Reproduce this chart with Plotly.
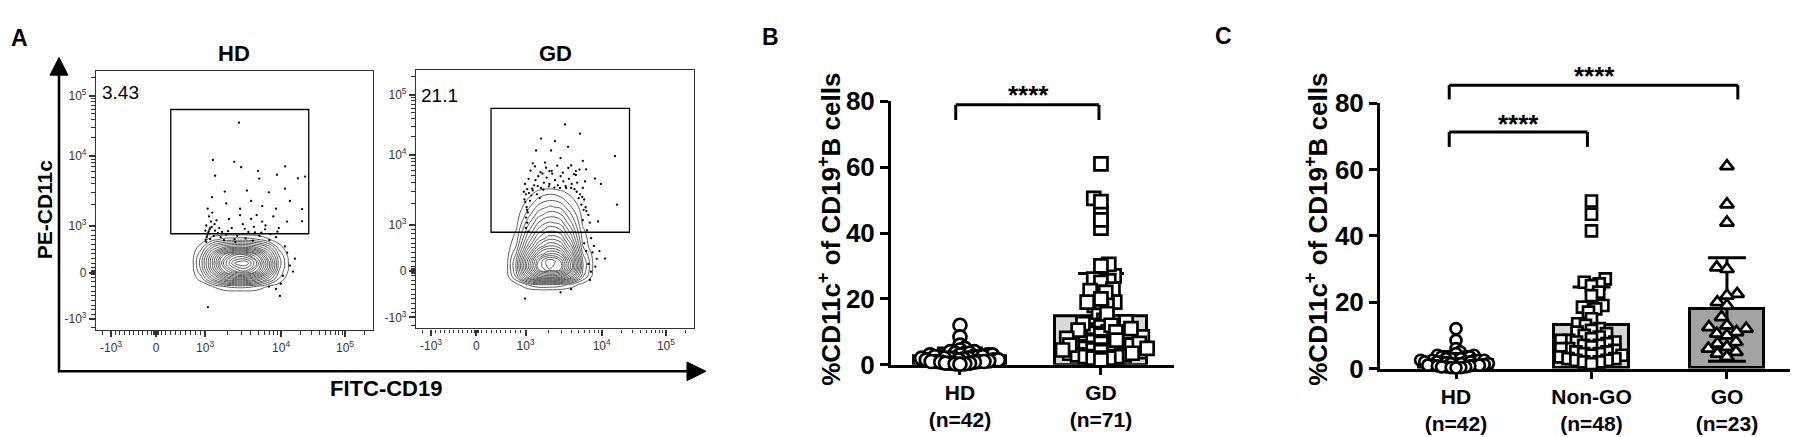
import numpy as np
import plotly.graph_objects as go

# ======================= DATA =======================
# ---- Panel A: flow cytometry, display channel units (0-1000, biexponential display) ----
flow_tick_labels = ["-10<sup>3</sup>", "0", "10<sup>3</sup>", "10<sup>4</sup>", "10<sup>5</sup>"]
flow_x_ticks = [54, 217, 394, 668, 899]
flow_y_ticks = [43, 223, 403, 673, 906]
flow_titles = ["HD", "GD"]
gate_pct = ["3.43", "21.1"]
gate_x = [270, 768]
gate_y = [373, 853]

# HD density grid
hd_grid_x = [340, 380, 420, 460, 500, 540, 580, 620, 660, 700, 740]
hd_grid_y = [140, 170, 200, 230, 260, 290, 320, 350, 380]
hd_density = [
    [0, 0, 0, 0, 0, 0, 0, 0, 0, 0, 0],
    [0, 0, 0.5, 1.0, 1.2, 1.2, 1.0, 0.5, 0.2, 0, 0],
    [0, 0.8, 2.5, 4.0, 5.0, 5.0, 4.0, 2.5, 1.0, 0, 0],
    [0, 1.5, 4.0, 6.5, 8.0, 8.5, 7.0, 4.5, 1.5, 0.3, 0],
    [0, 1.8, 4.5, 7.5, 9.5, 10.0, 8.0, 5.0, 1.8, 0.3, 0],
    [0, 1.5, 4.0, 6.5, 8.0, 8.0, 6.5, 4.0, 1.5, 0.2, 0],
    [0, 0.8, 2.5, 3.5, 4.0, 4.0, 3.5, 2.5, 0.8, 0, 0],
    [0, 0.2, 0.8, 1.2, 1.3, 1.3, 1.1, 0.6, 0.2, 0, 0],
    [0, 0, 0, 0, 0, 0, 0, 0, 0, 0, 0],
]
hd_dots_x = [516, 422, 499, 524, 683, 585, 430, 653, 729, 755, 589, 419, 465, 545, 624, 682, 744, 744, 600, 650,
             560, 700, 520, 470, 640, 580, 690,
             400, 405, 410, 398, 415, 408, 420, 403, 425, 430, 418, 435, 440, 395, 412, 428, 445, 450, 455,
             470, 490, 510, 530, 550, 570, 590, 610, 630, 650, 480, 520, 560, 600, 660, 540, 500,
             682, 711, 667, 624, 664, 718, 690, 700, 675, 650, 404,
             398, 402, 407, 413, 396, 462, 477, 503, 537, 566, 597, 626, 655, 612, 574]
hd_dots_y = [802, 658, 651, 630, 633, 615, 597, 601, 587, 594, 586, 514, 536, 540, 533, 547, 468, 421, 480, 470,
             500, 500, 470, 490, 440, 445, 420,
             360, 375, 390, 405, 420, 440, 455, 470, 365, 385, 400, 425, 375, 385, 352, 410, 395, 360, 380,
             370, 395, 365, 410, 380, 400, 365, 390, 372, 360, 430, 445, 430, 420, 395, 355, 352,
             324, 227, 180, 169, 133, 277, 300, 250, 210, 160, 90,
             342, 368, 382, 396, 350, 348, 383, 341, 392, 346, 377, 349, 381, 405, 378]

# GD density grid
gd_grid_x = [320, 360, 400, 440, 480, 520, 560, 600, 640]
gd_grid_y = [140, 170, 200, 230, 260, 290, 320, 350, 380, 410, 440, 470, 500, 530, 560]
gd_density = [
    [0, 0, 0, 0, 0, 0, 0, 0, 0],
    [0, 0.3, 1.0, 1.5, 1.5, 1.3, 0.8, 0.3, 0],
    [0, 1.5, 4.0, 6.0, 6.5, 6.0, 4.0, 1.5, 0.2],
    [0, 2.0, 5.5, 8.5, 9.5, 9.0, 6.0, 2.0, 0.3],
    [0, 2.0, 5.5, 8.5, 10.0, 9.0, 6.0, 2.0, 0.3],
    [0, 1.5, 4.5, 7.0, 8.0, 7.5, 5.0, 1.5, 0.2],
    [0, 1.0, 3.5, 5.5, 6.5, 6.0, 4.0, 1.0, 0],
    [0, 0.7, 2.8, 4.5, 5.3, 5.0, 3.2, 0.8, 0],
    [0, 0.5, 2.2, 3.7, 4.4, 4.1, 2.6, 0.6, 0],
    [0, 0.3, 1.7, 3.0, 3.6, 3.3, 2.0, 0.4, 0],
    [0, 0.2, 1.2, 2.3, 2.8, 2.6, 1.5, 0.3, 0],
    [0, 0.1, 0.8, 1.7, 2.1, 1.9, 1.0, 0.2, 0],
    [0, 0, 0.5, 1.1, 1.4, 1.2, 0.6, 0.1, 0],
    [0, 0, 0.2, 0.6, 0.8, 0.6, 0.3, 0, 0],
    [0, 0, 0, 0, 0, 0, 0, 0, 0],
]
gd_dots_x = [536, 590, 450, 500, 716, 432, 486, 547, 464, 558, 612, 644, 665, 723, 655, 520, 575, 480, 420, 600,
             390, 395, 400, 392, 405, 410, 415, 420, 425, 430, 440, 450, 460, 470, 480, 490, 500, 510, 520, 530,
             540, 550, 560, 570, 580, 590, 600, 605, 595, 585, 575, 455, 435, 445, 398, 402, 396, 400, 395, 404,
             610, 620, 625, 615, 630, 640, 635, 650, 680, 629, 626, 558, 620, 645, 605, 612, 660, 600, 392, 520,
             388, 393, 399, 406, 412, 418, 428, 438, 448, 458, 468, 478, 488, 498, 508, 518, 528, 538, 548, 558,
             568, 578, 588, 598, 608, 603, 613]
gd_dots_y = [791, 755, 736, 726, 668, 690, 690, 704, 643, 632, 617, 581, 560, 480, 415, 660, 610, 610, 640, 650,
             500, 520, 540, 560, 580, 495, 515, 535, 555, 575, 590, 545, 565, 585, 560, 600, 575, 555, 590, 570,
             545, 580, 560, 540, 565, 520, 545, 500, 480, 505, 595, 600, 520, 505, 470, 450, 430, 410, 390, 375,
             470, 440, 410, 380, 350, 320, 295, 270, 271, 220, 188, 152, 250, 240, 330, 300, 300, 420, 116, 140,
             530, 490, 460, 525, 612, 542, 628, 552, 606, 538, 623, 551, 611, 546, 631, 545, 604, 552, 622, 545,
             598, 530, 616, 510, 570, 460, 455]

# ---- Panels B and C: % CD11c+ of CD19+ B cells ----
hd_vals = [12, 8.5, 6, 5, 4.5, 4, 4, 3.5, 3.5, 3.5, 3, 3, 3, 3, 2.5, 2.5, 2.5, 2.5, 2.5, 2, 2, 2, 2, 2,
           1.8, 1.5, 1.5, 1.5, 1.5, 1.2, 1, 1, 1, 1, 0.8, 0.8, 0.5, 0.5, 0.5, 0.3, 0.3, 0.2]
nongo_vals = [50.5, 46.5, 41.5, 27, 26, 25.5, 25, 23, 22, 19, 18.5, 18, 17, 15, 13.5, 13, 12, 11.5, 11, 10.5,
              10, 9.5, 9, 8.5, 8.5, 8, 8, 7.5, 7, 7, 6.5, 6, 6, 5.5, 5, 5, 4.5, 4.5, 4, 4, 3.5, 3, 3, 2.5,
              2.5, 2, 2, 1.5]
go_vals = [61, 49.5, 44, 30.5, 30, 22.5, 22, 20, 19, 15.5, 13, 12.5, 12, 11, 10.5, 10, 8, 7.5, 6.5, 6, 5,
           4.5, 3.5]
gd_vals = nongo_vals + go_vals

b_categories = ["HD<br>(n=42)", "GD<br>(n=71)"]
b_means = [2.6, 14.7]
b_sds = [2.5, 13.0]
c_categories = ["HD<br>(n=42)", "Non-GO<br>(n=48)", "GO<br>(n=23)"]
c_means = [2.6, 13.0, 17.8]
c_sds = [2.5, 11.6, 15.6]
value_ticks = [0, 20, 40, 60, 80]
stars = "****"
y_title = "%CD11c<sup>+</sup> of CD19<sup>+</sup>B cells"
# significance brackets: (panel, [left, right] category positions, leg bottom, bar level)
b_brackets = [([-0.03, 0.986], 74.3, 78.9)]
c_brackets = [([-0.05, 2.08], 81.1, 85.4), ([-0.05, 0.97], 66.8, 71.3)]

# ======================= LAYOUT HELPERS =======================
W, H = 1798, 437


def px(x):
    return x / W


def py(y):
    return 1 - y / H


FONT = "Liberation Sans, Arial, Helvetica, sans-serif"

# pixel geometry of the panels
A_HD = dict(x0=88, x1=365, y0=330, y1=52)
A_GD = dict(x0=408, x1=686, y0=328, y1=51)
B_AX = dict(x0=883, x1=1166, y0=367, y1=84, xr=[-0.489, 1.518], yr=[0, 80])
C_AX = dict(x0=1372, x1=1797, y0=371, y1=86, xr=[-0.561, 2.576], yr=[0, 80])


def val_to_paper(ax, v):
    frac = (v - ax["yr"][0]) / (ax["yr"][1] - ax["yr"][0])
    return py(ax["y0"] - frac * (ax["y0"] - ax["y1"]))


def minor_ticks(major):
    neg, zero, p3, p4, p5 = major
    m = []
    for k in range(1, 10):
        m.append(zero + (p3 - zero) * k / 10)
        m.append(zero - (zero - neg) * k / 10)
    for k in (0.015, 0.03, 0.045, -0.015, -0.03, -0.045):
        m.append(zero + k * (p3 - zero))
    for k in range(2, 10):
        m.append(p3 + np.log10(k) * (p4 - p3))
        m.append(p4 + np.log10(k) * (p5 - p4))
    for k in (2, 3):
        m.append(p5 + np.log10(k) * (p5 - p4))
    m.append(neg - (zero - neg) * 0.18)
    return [v for v in m if 5 < v < 995]


def swarm(vals, ppu_y, min_d, step=0.6):
    n = len(vals)
    order = sorted(range(n), key=lambda i: vals[i])
    placed = []
    offs = [0.0] * n
    for j, i in enumerate(order):
        yv = vals[i] * ppu_y
        k = 0
        chosen = None
        while chosen is None:
            if k == 0:
                cands = [0.0]
            else:
                cands = [k * step, -k * step] if j % 2 == 0 else [-k * step, k * step]
            for c in cands:
                if all((c - a) ** 2 + (yv - b) ** 2 >= min_d ** 2 for a, b in placed):
                    chosen = c
                    break
            k += 1
        placed.append((chosen, yv))
        offs[i] = chosen
    return offs


fig = go.Figure()

# ======================= PANEL A =======================
for k, (gx, gy, gz, dx, dy) in enumerate([
        (hd_grid_x, hd_grid_y, hd_density, hd_dots_x, hd_dots_y),
        (gd_grid_x, gd_grid_y, gd_density, gd_dots_x, gd_dots_y)]):
    xa = "x" if k == 0 else "x2"
    ya = "y" if k == 0 else "y2"
    fig.add_trace(go.Contour(
        x=gx, y=gy, z=gz, xaxis=xa, yaxis=ya,
        contours=dict(coloring="lines", start=0.5, end=10, size=0.5),
        line=dict(width=1.0, smoothing=1.3),
        colorscale=[[0, "#5c5c5c"], [1, "#5c5c5c"]], showscale=False, hoverinfo="skip"))
    fig.add_trace(go.Scatter(
        x=dx, y=dy, xaxis=xa, yaxis=ya, mode="markers",
        marker=dict(size=2.3, color="black"), hoverinfo="skip"))
    fig.add_shape(type="rect", xref=xa, yref=ya, x0=gate_x[0], x1=gate_x[1], y0=gate_y[0], y1=gate_y[1],
                  line=dict(color="black", width=1.3))

# ======================= PANELS B, C =======================
def add_group_panel(xa, ya, ax, cats_vals, means, sds, bar_colors, bar_width, symbols, sizes, mind, capw):
    ppu_x = (ax["x1"] - ax["x0"]) / (ax["xr"][1] - ax["xr"][0])
    ppu_y = (ax["y0"] - ax["y1"]) / (ax["yr"][1] - ax["yr"][0])
    fig.add_trace(go.Bar(
        x=list(range(len(means))), y=means, width=bar_width, xaxis=xa, yaxis=ya,
        marker=dict(color=bar_colors, line=dict(color="black", width=3)),
        error_y=dict(type="data", array=sds, color="black", thickness=3, width=capw),
        hoverinfo="skip"))
    for ci, vals in enumerate(cats_vals):
        offs = swarm(vals, ppu_y, mind[ci])
        xs = [ci + o / ppu_x for o in offs]
        fig.add_trace(go.Scatter(
            x=xs, y=vals, xaxis=xa, yaxis=ya, mode="markers", cliponaxis=False,
            marker=dict(symbol=symbols[ci], size=sizes[ci], color="white",
                        line=dict(color="black", width=2.7)),
            hoverinfo="skip"))


add_group_panel("x3", "y3", B_AX, [hd_vals, gd_vals], b_means, b_sds, ["white", "#d9d9d9"], 0.652,
                ["circle", "square"], [13, 13], [4.7, 7.5], 23)
add_group_panel("x4", "y4", C_AX, [hd_vals, nongo_vals, go_vals], c_means, c_sds,
                ["white", "#d6d6d6", "#a3a3a3"], 0.553,
                ["circle", "square", "triangle-up"], [11, 11, 12], [4.3, 7.7, 10.2], 19)

# significance brackets (x in category units, y mapped through the value axis)
for xa, ax, blist in (("x3", B_AX, b_brackets), ("x4", C_AX, c_brackets)):
    for (xl, xr), leg, lvl in blist:
        for x0, x1, y0, y1 in ((xl, xl, leg, lvl), (xl, xr, lvl, lvl), (xr, xr, lvl, leg)):
            fig.add_shape(type="line", xref=xa, yref="paper", x0=x0, x1=x1,
                          y0=val_to_paper(ax, y0), y1=val_to_paper(ax, y1),
                          line=dict(color="black", width=3))

annotations = []
# significance stars (pixel centres)
for sx, sy in [(1020, 77.5), (1586, 56.5), (1510, 108.5)]:
    annotations.append(dict(xref="paper", yref="paper", x=px(sx), y=py(sy), text="<b>%s</b>" % stars,
                            showarrow=False, font=dict(size=26, family=FONT, color="black"),
                            xanchor="center", yanchor="middle"))

# y titles for B and C
for cx in (822, 1309):
    annotations.append(dict(xref="paper", yref="paper", x=px(cx), y=py(222), text="<b>%s</b>" % y_title,
                            textangle=-90, showarrow=False, font=dict(size=26, family=FONT, color="black"),
                            xanchor="center", yanchor="middle"))

# panel letters
for letter, lx, ly in (("A", 11, 16), ("B", 762, 15), ("C", 1215, 14)):
    annotations.append(dict(xref="paper", yref="paper", x=px(lx), y=py(ly), text="<b>%s</b>" % letter,
                            showarrow=False, font=dict(size=23, family=FONT, color="black"),
                            xanchor="center", yanchor="middle"))

# panel A texts
for t, cx in zip(flow_titles, (226, 547)):
    annotations.append(dict(xref="paper", yref="paper", x=px(cx), y=py(33), text="<b>%s</b>" % t,
                            showarrow=False, font=dict(size=22, family=FONT, color="black"),
                            xanchor="center", yanchor="middle"))
for t, (cx, cy) in zip(gate_pct, ((112, 75), (431, 78))):
    annotations.append(dict(xref="paper", yref="paper", x=px(cx), y=py(cy), text=t,
                            showarrow=False, font=dict(size=19, family=FONT, color="black"),
                            xanchor="center", yanchor="middle"))
annotations.append(dict(xref="paper", yref="paper", x=px(36), y=py(200), text="<b>PE-CD11c</b>", textangle=-90,
                        showarrow=False, font=dict(size=21, family=FONT, color="black"),
                        xanchor="center", yanchor="middle"))
annotations.append(dict(xref="paper", yref="paper", x=px(378), y=py(392), text="<b>FITC-CD19</b>",
                        showarrow=False, font=dict(size=22, family=FONT, color="black"),
                        xanchor="center", yanchor="middle"))

# big axis arrows of panel A
shapes = [
    dict(type="line", xref="paper", yref="paper", x0=px(51), x1=px(51), y0=py(375), y1=py(50),
         line=dict(color="black", width=2.6)),
    dict(type="path", xref="paper", yref="paper",
         path="M %f,%f L %f,%f L %f,%f Z" % (px(42), py(56), px(60), py(56), px(51), py(37)),
         fillcolor="black", line=dict(color="black", width=1)),
    dict(type="line", xref="paper", yref="paper", x0=px(50), x1=px(682), y0=py(374), y1=py(374),
         line=dict(color="black", width=2.6)),
    dict(type="path", xref="paper", yref="paper",
         path="M %f,%f L %f,%f L %f,%f Z" % (px(679), py(364), px(679), py(384), px(698), py(374)),
         fillcolor="black", line=dict(color="black", width=1)),
]
for s in shapes:
    fig.add_shape(**s)


def flow_axis(dom, ticks, anchor):
    return dict(domain=dom, range=[0, 1000], anchor=anchor, showline=True, mirror=True, linecolor="#333",
                linewidth=1.2, ticks="outside", ticklen=6, tickwidth=1.6, tickcolor="#333",
                tickvals=ticks, ticktext=flow_tick_labels, tickfont=dict(size=12, family=FONT, color="#333"),
                minor=dict(tickvals=minor_ticks(ticks), ticklen=3.5, tickwidth=1, tickcolor="#333",
                           ticks="outside"),
                showgrid=False, zeroline=False, fixedrange=True)


def group_xaxis(ax, cats, anchor):
    return dict(domain=[px(ax["x0"]), px(ax["x1"])], range=ax["xr"], anchor=anchor, showline=True,
                linecolor="black", linewidth=3, ticks="outside", ticklen=7, tickwidth=3, tickcolor="black",
                tickvals=list(range(len(cats))), ticktext=["<b>%s</b>" % c for c in cats],
                tickfont=dict(size=21, family=FONT, color="black"), showgrid=False, zeroline=False,
                layer="below traces", fixedrange=True, ticklabelstandoff=0)


def group_yaxis(ax, anchor):
    return dict(domain=[py(ax["y0"]), py(ax["y1"])], range=ax["yr"], anchor=anchor, showline=True,
                linecolor="black", linewidth=3, ticks="outside", ticklen=8, tickwidth=3, tickcolor="black",
                tickvals=value_ticks, ticktext=["<b>%d</b>" % v for v in value_ticks],
                tickfont=dict(size=26, family=FONT, color="black"), showgrid=False, zeroline=False,
                layer="below traces", fixedrange=True)


fig.update_layout(
    width=W, height=H, margin=dict(l=0, r=0, t=0, b=0),
    paper_bgcolor="white", plot_bgcolor="white", showlegend=False,
    font=dict(family=FONT, color="black"),
    xaxis=flow_axis([px(A_HD["x0"]), px(A_HD["x1"])], flow_x_ticks, "y"),
    yaxis=flow_axis([py(A_HD["y0"]), py(A_HD["y1"])], flow_y_ticks, "x"),
    xaxis2=flow_axis([px(A_GD["x0"]), px(A_GD["x1"])], flow_x_ticks, "y2"),
    yaxis2=flow_axis([py(A_GD["y0"]), py(A_GD["y1"])], flow_y_ticks, "x2"),
    xaxis3=group_xaxis(B_AX, b_categories, "y3"),
    yaxis3=group_yaxis(B_AX, "x3"),
    xaxis4=group_xaxis(C_AX, c_categories, "y4"),
    yaxis4=group_yaxis(C_AX, "x4"),
    annotations=annotations,
    bargap=0,
)

fig.write_html("out.html")
